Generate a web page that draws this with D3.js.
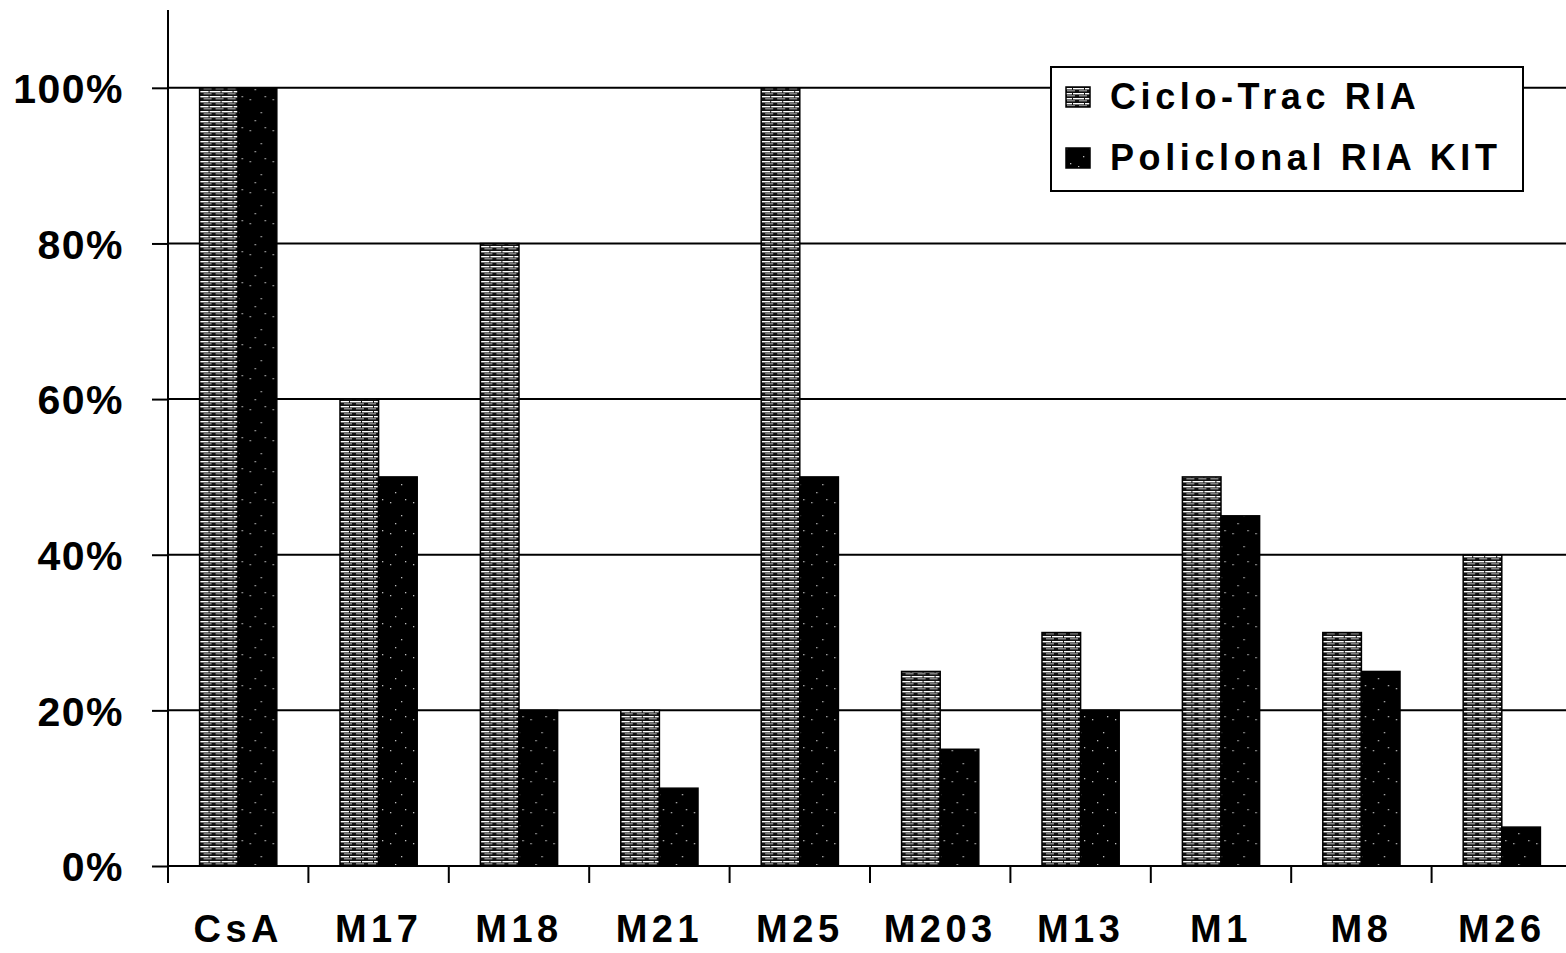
<!DOCTYPE html>
<html>
<head>
<meta charset="utf-8">
<script src="https://cdn.jsdelivr.net/npm/d3@7"></script>
<style>
  html, body { margin: 0; padding: 0; background: #fff; }
  svg { display: block; }
  text { font-family: "Liberation Sans", Arial, sans-serif; font-weight: bold; fill: #000; }
</style>
</head>
<body>
<svg id="chart" width="1566" height="953"></svg>
<script>
// Data
const categories = ["CsA", "M17", "M18", "M21", "M25", "M203", "M13", "M1", "M8", "M26"];
const seriesNames = ["Ciclo-Trac RIA", "Policlonal RIA KIT"];
const cicloTrac = [100, 60, 80, 20, 100, 25, 30, 50, 30, 40];
const policlonal = [100, 50, 20, 10, 50, 15, 20, 45, 25, 5];
const yTicks = [0, 20, 40, 60, 80, 100];

const svg = d3.select("#chart");
const W = 1566, H = 953;
const margin = { left: 168, right: -6, top: 10, bottom: 87 };
const x0 = margin.left, x1 = W - margin.right;
const yBottom = H - margin.bottom;

const x = d3.scaleBand().domain(categories).range([x0, x1]).paddingInner(0).paddingOuter(0);
const xSeries = d3.scaleBand().domain(seriesNames).range([0, x.bandwidth() * 0.55]).padding(0);
const y = d3.scaleLinear().domain([0, 110]).range([yBottom, margin.top]);

// Fill patterns
const defs = svg.append("defs");
const p1 = defs.append("pattern").attr("id", "stripes").attr("patternUnits", "userSpaceOnUse")
  .attr("width", 12).attr("height", 5);
p1.append("rect").attr("width", 12).attr("height", 5).attr("fill", "#111");
p1.append("rect").attr("x", 0).attr("y", 1).attr("width", 9).attr("height", 1.4).attr("fill", "#fff");
p1.append("rect").attr("x", 10).attr("y", 1).attr("width", 2).attr("height", 1.4).attr("fill", "#fff");
p1.append("rect").attr("x", 4).attr("y", 3.4).attr("width", 8).attr("height", 0.9).attr("fill", "#ccc");

const p2 = defs.append("pattern").attr("id", "speckle").attr("patternUnits", "userSpaceOnUse")
  .attr("width", 23).attr("height", 31);
p2.append("rect").attr("width", 23).attr("height", 31).attr("fill", "#000");
[[4, 6], [15, 19], [9, 27], [19, 3]].forEach(([cx, cy]) =>
  p2.append("rect").attr("x", cx).attr("y", cy).attr("width", 1.3).attr("height", 1.3).attr("fill", "#bbb"));

const fills = { "Ciclo-Trac RIA": "url(#stripes)", "Policlonal RIA KIT": "url(#speckle)" };

// Gridlines
svg.append("g").selectAll("line").data(yTicks.filter(d => d > 0)).join("line")
  .attr("x1", x0).attr("x2", W).attr("y1", d => y(d)).attr("y2", d => y(d))
  .attr("stroke", "#000").attr("stroke-width", 2);

// Bars
const groupOffset = (x.bandwidth() - xSeries.range()[1]) / 2;
const rows = categories.map((c, i) => ({ c, vals: [cicloTrac[i], policlonal[i]] }));
const groups = svg.append("g").selectAll("g").data(rows).join("g")
  .attr("transform", d => `translate(${x(d.c) + groupOffset},0)`);
groups.selectAll("rect").data(d => d.vals.map((v, j) => ({ s: seriesNames[j], v }))).join("rect")
  .attr("x", d => xSeries(d.s)).attr("width", xSeries.bandwidth())
  .attr("y", d => y(d.v)).attr("height", d => yBottom - y(d.v))
  .attr("fill", d => fills[d.s]).attr("stroke", "#000").attr("stroke-width", 1.5);

// Y axis
const yAxis = d3.axisLeft(y).tickValues(yTicks).tickSize(16).tickFormat(d => d + "%");
const gy = svg.append("g").attr("transform", `translate(${x0},0)`).call(yAxis);
gy.select(".domain").remove();
gy.append("line").attr("x1", 0).attr("x2", 0).attr("y1", margin.top).attr("y2", yBottom + 16)
  .attr("stroke", "#000").attr("stroke-width", 2);
gy.selectAll(".tick line").attr("stroke", "#000").attr("stroke-width", 2);
gy.selectAll(".tick text").attr("x", -44).attr("dy", "0.36em")
  .style("font-size", "41px").style("letter-spacing", "1.5px").attr("fill", "#000");

// X axis
const xAxis = d3.axisBottom(x).tickSize(0).tickSizeOuter(0);
const gx = svg.append("g").attr("transform", `translate(0,${yBottom})`).call(xAxis);
gx.select(".domain").remove();
gx.append("line").attr("x1", x0).attr("x2", W).attr("y1", 0).attr("y2", 0)
  .attr("stroke", "#000").attr("stroke-width", 2);
gx.selectAll(".tick text").attr("y", 76).attr("dy", 0)
  .style("font-size", "38px").style("letter-spacing", "4.5px").attr("fill", "#000");
// Category boundary ticks
gx.append("g").selectAll("line").data(categories).join("line")
  .attr("x1", d => x(d)).attr("x2", d => x(d)).attr("y1", 0).attr("y2", 17)
  .attr("stroke", "#000").attr("stroke-width", 2);

// Legend
const lg = svg.append("g").attr("transform", "translate(1051,67)");
lg.append("rect").attr("width", 472).attr("height", 124).attr("fill", "#fff")
  .attr("stroke", "#000").attr("stroke-width", 2);
seriesNames.forEach((s, i) => {
  const base = 42 + i * 61;
  lg.append("rect").attr("x", 15).attr("y", base - 22).attr("width", 24).attr("height", 20)
    .attr("fill", fills[s]).attr("stroke", "#000").attr("stroke-width", 1.5);
  lg.append("text").attr("x", 59).attr("y", base)
    .style("font-size", "36px").style("letter-spacing", "4.6px").text(s);
});
</script>
</body>
</html>
